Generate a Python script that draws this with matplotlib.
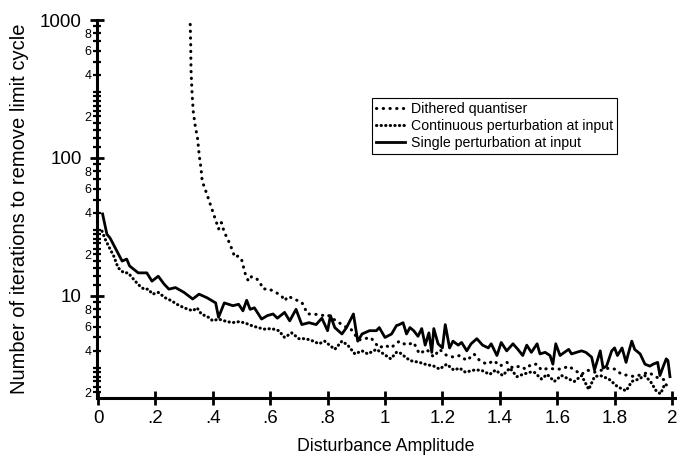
import numpy as np
import matplotlib
matplotlib.use('Agg')
import matplotlib.pyplot as plt
from matplotlib.ticker import FixedLocator, FuncFormatter

plt.rcParams['font.family'] = ['Liberation Sans', 'DejaVu Sans']

########## data ##########
# single perturbation at input (solid)
solid_x = [0.016, 0.031, 0.042, 0.06, 0.084, 0.10, 0.11, 0.14, 0.17, 0.188,
           0.21, 0.23, 0.247, 0.27, 0.30, 0.33, 0.352, 0.38, 0.41, 0.42,
           0.44, 0.47, 0.49, 0.505, 0.518, 0.53, 0.545, 0.57, 0.59, 0.61,
           0.625, 0.65, 0.668, 0.69, 0.71, 0.735, 0.76, 0.78, 0.80, 0.81,
           0.825, 0.85, 0.866, 0.89, 0.905, 0.92, 0.946, 0.97, 0.98, 1.0,
           1.023, 1.04, 1.05, 1.063, 1.075, 1.087, 1.10, 1.115, 1.128, 1.14,
           1.153, 1.163, 1.17, 1.185, 1.20, 1.21, 1.225, 1.237, 1.255, 1.267,
           1.285, 1.30, 1.32, 1.34, 1.36, 1.37, 1.39, 1.405, 1.424, 1.446,
           1.463, 1.48, 1.494, 1.51, 1.53, 1.54, 1.558, 1.575, 1.585, 1.595,
           1.61, 1.625, 1.64, 1.65, 1.667, 1.685, 1.70, 1.72, 1.73, 1.75,
           1.76, 1.772, 1.79, 1.80, 1.81, 1.826, 1.84, 1.846, 1.86, 1.87,
           1.889, 1.906, 1.923, 1.934, 1.95, 1.958, 1.97, 1.98, 1.986, 1.993]
solid_y = [39.3, 28, 26.3, 22.3, 17.9, 18.5, 16.5, 14.7, 14.7, 12.8,
           13.9, 12.2, 11.2, 11.5, 10.6, 9.5, 10.3, 9.7, 8.9, 7.0,
           8.9, 8.5, 8.7, 7.8, 9.3, 8.0, 8.2, 6.8, 7.2, 7.4,
           6.9, 7.6, 6.6, 8.0, 6.2, 6.4, 6.2, 6.9, 5.6, 7.2,
           5.9, 5.3, 5.9, 7.4, 4.7, 5.3, 5.6, 5.6, 5.9, 5.0,
           5.3, 6.1, 6.2, 6.4, 5.3, 5.9, 5.6, 5.1, 5.8, 4.4,
           5.4, 3.9, 5.8, 4.5, 4.2, 6.2, 4.2, 4.7, 4.4, 4.6,
           4.0, 4.5, 4.9, 4.4, 4.2, 4.5, 3.7, 4.6, 4.0, 4.5,
           4.1, 3.7, 4.4, 3.9, 4.5, 3.8, 3.9, 3.7, 3.2, 4.5,
           3.7, 3.9, 4.1, 3.8, 3.9, 4.0, 3.9, 3.6, 2.9, 4.0,
           3.0, 3.1, 4.0, 4.2, 3.7, 4.2, 3.3, 3.7, 4.7, 4.1,
           3.8, 3.2, 3.1, 3.2, 3.3, 2.65, 3.1, 3.5, 3.4, 2.6]

# continuous perturbation at input (dense dots)
cont_x = [0.014, 0.025, 0.04, 0.055, 0.07, 0.09, 0.105, 0.12, 0.14, 0.16,
          0.175, 0.19, 0.21, 0.234, 0.257, 0.275, 0.30, 0.33, 0.345, 0.36,
          0.385, 0.40, 0.42, 0.44, 0.467, 0.49, 0.51, 0.535, 0.557, 0.58,
          0.605, 0.63, 0.65, 0.675, 0.70, 0.72, 0.74, 0.77, 0.79, 0.825,
          0.85, 0.87, 0.895, 0.92, 0.94, 0.97, 0.995, 1.02, 1.04, 1.05,
          1.087, 1.12, 1.14, 1.17, 1.19, 1.215, 1.24, 1.26, 1.28, 1.31,
          1.335, 1.365, 1.385, 1.41, 1.435, 1.46, 1.48, 1.505, 1.52, 1.545,
          1.565, 1.59, 1.615, 1.64, 1.66, 1.685, 1.71, 1.73, 1.75, 1.78,
          1.81, 1.84, 1.86, 1.885, 1.905, 1.925, 1.945, 1.96, 1.975, 1.99]
cont_y = [29.5, 25.8, 22.3, 19.4, 16.0, 14.7, 14.7, 13.5, 12.1, 11.2,
          11.2, 10.3, 10.6, 9.7, 9.2, 8.7, 8.2, 7.8, 8.2, 7.4,
          7.0, 6.6, 6.8, 6.6, 6.4, 6.5, 6.4, 6.1, 5.9, 5.75,
          5.8, 5.6, 5.0, 5.4, 4.9, 4.9, 4.8, 4.5, 4.7, 4.1,
          4.7, 4.4, 3.8, 4.0, 3.8, 4.1, 3.8, 3.5, 3.9, 3.9,
          3.4, 3.3, 3.2, 3.1, 2.95, 3.2, 2.9, 3.0, 2.8, 2.9,
          2.9, 2.7, 2.9, 2.65, 3.0, 2.6, 2.7, 2.8, 2.8, 2.5,
          2.7, 2.4, 2.65, 2.5, 2.4, 2.65, 2.1, 2.6, 2.65, 2.5,
          2.2, 2.05, 2.4, 2.5, 2.65, 2.4, 2.05, 1.95, 2.3, 2.2]

# dithered quantiser (sparse dots)
dith_x = [0.318, 0.321, 0.323, 0.324, 0.328, 0.332, 0.338, 0.347, 0.353, 0.359,
          0.363, 0.379, 0.39, 0.398, 0.405, 0.415, 0.42, 0.43, 0.44, 0.455,
          0.466, 0.477, 0.488, 0.50, 0.512, 0.524, 0.535, 0.55, 0.564, 0.575,
          0.593, 0.62, 0.64, 0.65, 0.663, 0.68, 0.70, 0.71, 0.72, 0.73,
          0.75, 0.77, 0.79, 0.80, 0.82, 0.84, 0.86, 0.88, 0.89, 0.91,
          0.93, 0.95, 0.98, 1.0, 1.02, 1.05, 1.075, 1.10, 1.12, 1.145,
          1.17, 1.19, 1.215, 1.24, 1.26, 1.285, 1.31, 1.33, 1.355, 1.38,
          1.40, 1.425, 1.445, 1.47, 1.49, 1.51, 1.53, 1.545, 1.57, 1.59,
          1.615, 1.64, 1.66, 1.685, 1.705, 1.73, 1.755, 1.78, 1.80, 1.825,
          1.85, 1.87, 1.895, 1.92, 1.94, 1.965, 1.99]
dith_y = [1300, 1000, 660, 436, 287, 217, 175, 138, 103, 84,
          68, 55, 47, 42, 38, 33, 30.5, 34, 29, 25,
          22, 19, 19.5, 18.5, 14.7, 12.8, 13.8, 13.5, 12.6, 11.2,
          11.3, 10.6, 10.0, 9.2, 10.0, 9.5, 9.2, 9.0, 8.2, 7.4,
          7.4, 7.3, 7.2, 7.3, 6.8, 6.4, 6.0, 5.8, 5.4, 4.8,
          4.9, 5.0, 4.2, 4.4, 4.2, 4.7, 4.4, 4.6, 3.8, 4.1,
          3.6, 4.1, 3.7, 3.6, 3.7, 3.4, 3.8, 3.4, 3.2, 3.4,
          3.1, 3.3, 3.0, 3.1, 2.95, 3.2, 3.2, 2.9, 3.0, 2.95,
          2.95, 3.1, 2.9, 2.7, 2.9, 2.8, 2.9, 3.0, 2.95, 2.7,
          2.65, 2.6, 2.7, 2.8, 2.6, 2.5, 2.4]

x_ticks = [0, 0.2, 0.4, 0.6, 0.8, 1.0, 1.2, 1.4, 1.6, 1.8, 2.0]
x_labels = ['0', '.2', '.4', '.6', '.8', '1', '1.2', '1.4', '1.6', '1.8', '2']
y_major = [10, 100, 1000]
minor_mult = [1.2, 1.4, 1.6, 1.8, 2, 2.2, 2.4, 2.6, 2.8, 3, 4, 5, 6, 7, 8, 9]

########## figure ##########
fig = plt.figure(figsize=(6.77, 4.58), dpi=100)
ax = fig.add_axes([97/677, 1-397.7/458, 578/677, 377.7/458])

ax.plot(dith_x, dith_y, color='k', lw=2.2, ls=(0, (0.1, 2.1)),
        dash_capstyle='round', label='Dithered quantiser')
ax.plot(cont_x, cont_y, color='k', lw=2.2, ls=(0, (0.1, 1.4)),
        dash_capstyle='round', label='Continuous perturbation at input')
ax.plot(solid_x, solid_y, color='k', lw=2.0, label='Single perturbation at input')

ax.set_yscale('log')
ax.set_xlim(-0.0035, 2.0105)
ax.set_ylim(1.83, 1000)

ax.spines['top'].set_visible(False)
ax.spines['right'].set_visible(False)
ax.spines['left'].set_linewidth(2.2)
ax.spines['bottom'].set_linewidth(2.2)

ax.set_xticks(x_ticks)
ax.set_xticklabels(x_labels)
ax.yaxis.set_major_locator(FixedLocator(y_major))
ax.yaxis.set_major_formatter(FuncFormatter(lambda v, p: '%d' % v))
minor_locs = [m*d for d in [1, 10, 100] for m in minor_mult]
ax.yaxis.set_minor_locator(FixedLocator(minor_locs))


def minor_fmt(v, p):
    m = v / 10**np.floor(np.log10(v) + 1e-9)
    for k in (2, 4, 6, 8):
        if abs(m - k) < 1e-6:
            return str(k)
    return ''


ax.yaxis.set_minor_formatter(FuncFormatter(minor_fmt))

ax.tick_params(axis='x', which='major', direction='inout', length=10, width=2,
               labelsize=13.5, pad=4)
ax.tick_params(axis='x', which='minor', length=0)
ax.tick_params(axis='y', which='major', direction='inout', length=10, width=2,
               labelsize=13.5, pad=6)
ax.tick_params(axis='y', which='minor', direction='inout', length=6, width=1.6,
               labelsize=9, pad=1)

ax.set_xlabel('Disturbance Amplitude', fontsize=12.8)
ax.set_ylabel('Number of iterations to remove limit cycle', fontsize=14.5)
ax.xaxis.set_label_coords(0.5, -0.106)
ax.yaxis.set_label_coords(-0.117, 0.5)

leg = ax.legend(loc='upper left', bbox_to_anchor=(0.476, 0.7935), borderaxespad=0,
                fontsize=10.2, frameon=True, fancybox=False, edgecolor='k',
                framealpha=1, handlelength=2.0, handletextpad=0.45,
                borderpad=0.3, labelspacing=0.2)
leg.get_frame().set_linewidth(0.8)

fig.savefig('out.png', dpi=100)
